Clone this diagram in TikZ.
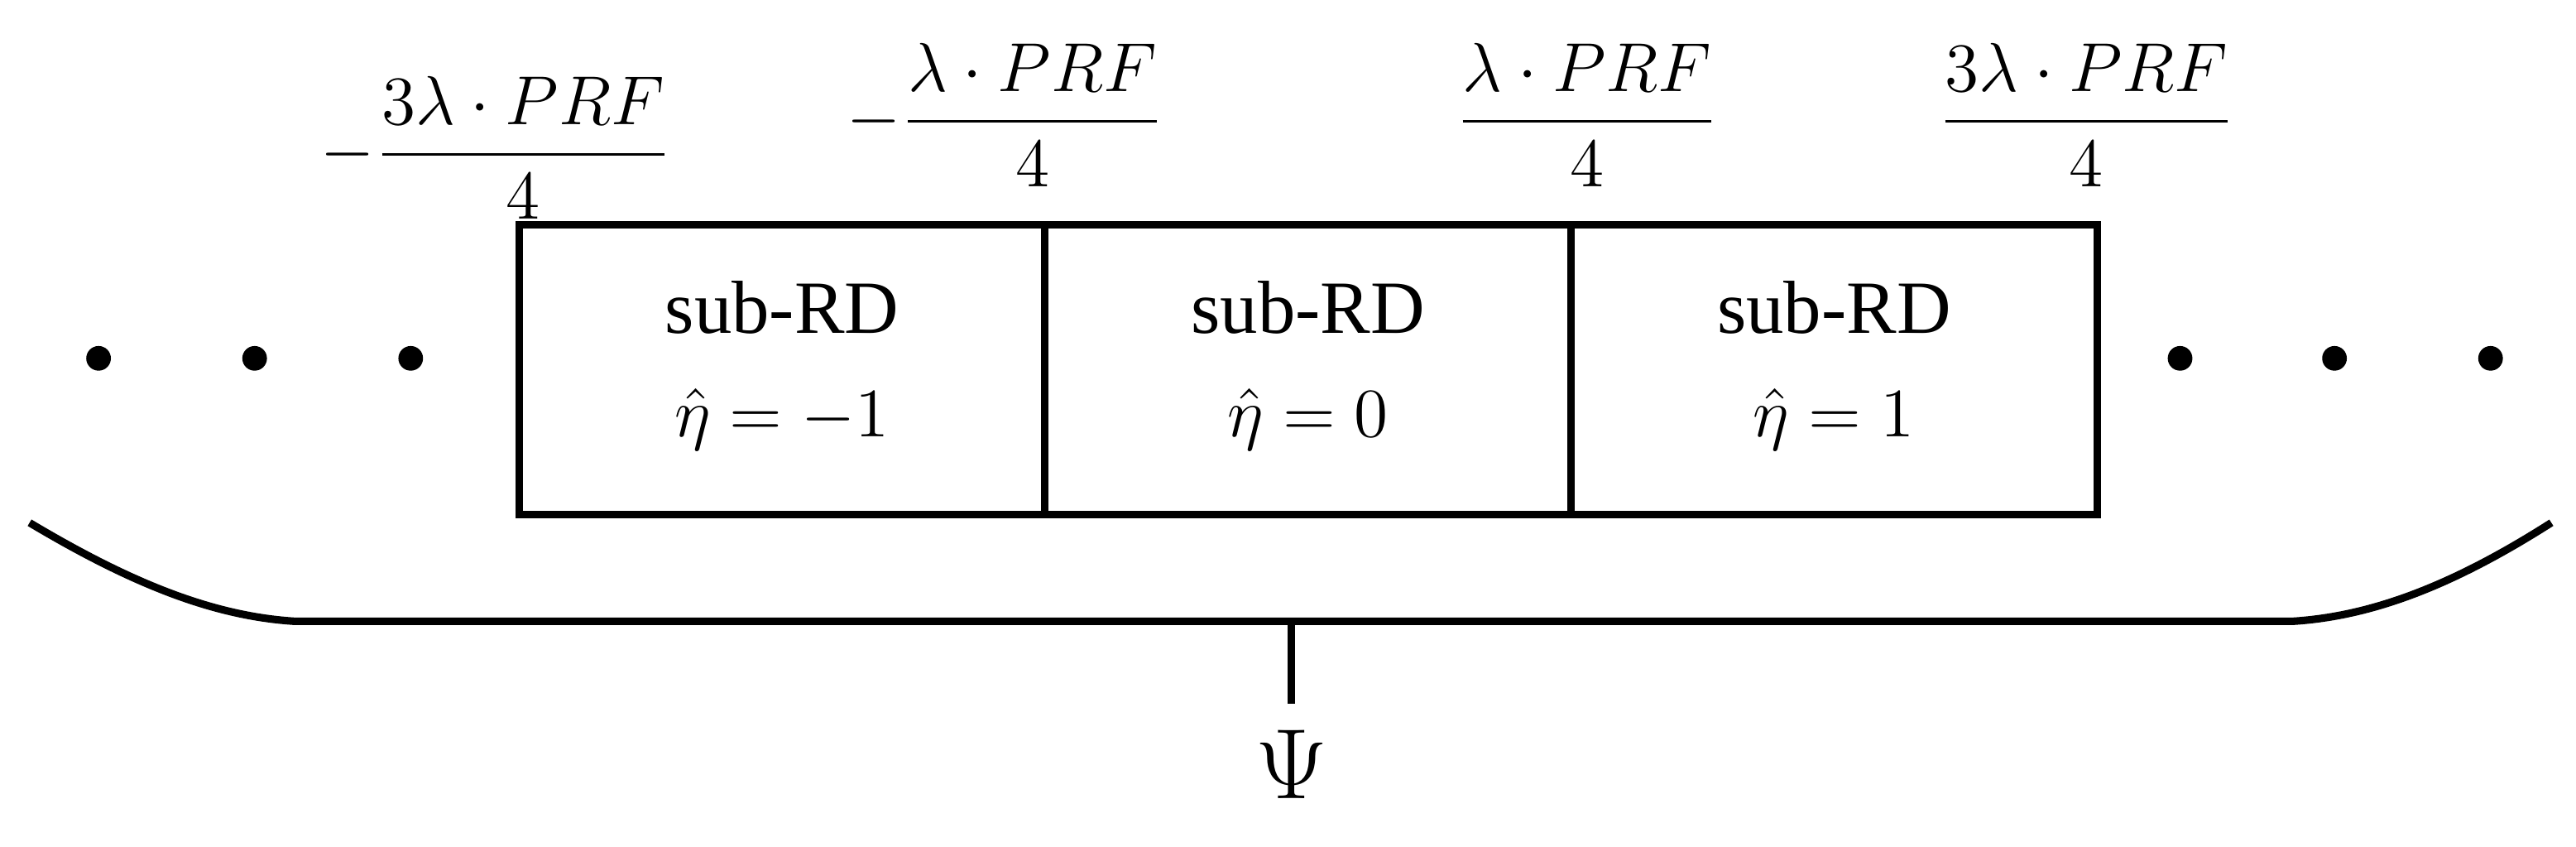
\documentclass[tikz,border=0pt]{standalone}
\usepackage{amsmath}
\usepackage{fontspec}
\setmainfont{Liberation Serif}
\usetikzlibrary{positioning,calc}

\begin{document}
\begin{tikzpicture}[x=0.01cm,y=-0.01cm,line width=1.3pt,
  subbox/.style={draw,minimum width=3.2cm,minimum height=1.76cm,inner sep=0pt,outer sep=0pt},
  dot/.style={circle,fill,inner sep=0pt,minimum size=0.15cm},
  lbl/.style={font=\fontsize{13}{15}\selectfont}]
  \useasboundingbox (0,0) rectangle (1568,515);

  % three sub-regions
  \node[subbox] (b1) at (476,225) {};
  \node[subbox,right=0pt of b1] (b2) {};
  \node[subbox,right=0pt of b2] (b3) {};
  \foreach \b/\v in {b1/-1,b2/0,b3/1}{
    \node[lbl] (t\b) at ($(\b.center)+(0,-38)$) {sub-RD};
    \node[lbl] (e\b) at ($(\b.center)+(0,30)$) {$\hat{\eta}=\v$};
  }

  % dots
  \foreach \x [count=\i] in {60,155,250,1327,1421,1516}
    \node[dot] (d\i) at (\x,218) {};

  % boundary labels
  \node[lbl] (l1) at (302,90) {$-\dfrac{3\lambda\cdot PRF}{4}$};
  \node[lbl] (l2) at (612,70) {$-\dfrac{\lambda\cdot PRF}{4}$};
  \node[lbl] (l3) at (966,70) {$\dfrac{\lambda\cdot PRF}{4}$};
  \node[lbl] (l4) at (1270,70) {$\dfrac{3\lambda\cdot PRF}{4}$};

  % brace
  \coordinate (bl) at (18,318);
  \coordinate (br) at (1553,318);
  \coordinate (bm) at (786,378);
  \draw (bl) .. controls (80,355) and (130,375) .. (180,378) -- (1395,378)
    .. controls (1445,375) and (1495,355) .. (br);
  \node[font=\fontsize{17}{19}\selectfont] (psi) at (786,465) {$\Psi$};
  \draw (bm) -- (786,428);
\end{tikzpicture}
\end{document}
